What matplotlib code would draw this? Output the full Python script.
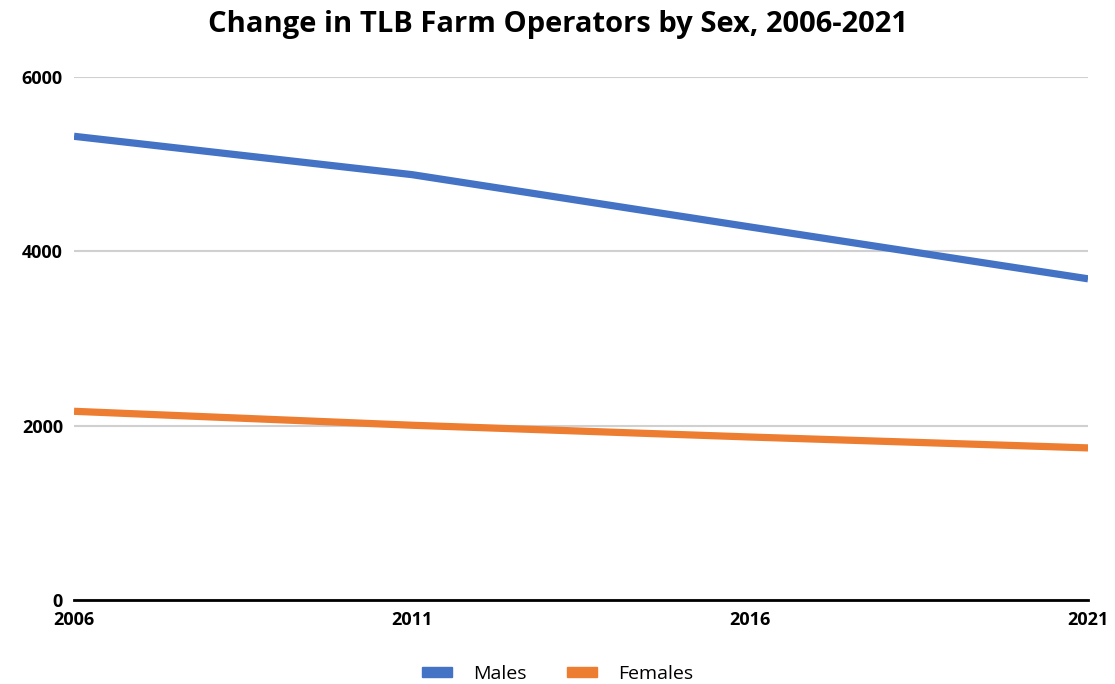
import matplotlib
matplotlib.use("Agg")
import matplotlib.pyplot as plt
from matplotlib.patches import Patch

# data
years = [2006, 2011, 2016, 2021]
males = [5320, 4880, 4280, 3685]
females = [2165, 2005, 1870, 1745]

blue = "#4472C4"
orange = "#ED7D31"

plt.rcParams['font.family'] = ['Open Sans', 'DejaVu Sans']

fig = plt.figure(figsize=(11.15, 6.84), dpi=100)
ax = fig.add_axes([0.0664, 0.1228, 0.9094, 0.7646])

ax.plot(years, males, color=blue, lw=5.2, solid_capstyle='butt', zorder=3)
ax.plot(years, females, color=orange, lw=5.2, solid_capstyle='butt', zorder=3)

ax.set_xlim(2006, 2021)
ax.set_ylim(0, 6000)
ax.set_xticks(years)
ax.set_yticks([0, 2000, 4000, 6000])
ax.grid(axis='y', color='#D0D0D0', lw=1.5)
ax.set_axisbelow(True)

for s in ['top', 'right', 'left']:
    ax.spines[s].set_visible(False)
ax.spines['bottom'].set_color('black')
ax.spines['bottom'].set_linewidth(2)
ax.spines['bottom'].set_zorder(4)
ax.tick_params(length=0, labelsize=13)
ax.tick_params(axis='y', pad=8)
ax.tick_params(axis='x', pad=8)
for lbl in ax.get_xticklabels() + ax.get_yticklabels():
    lbl.set_fontweight('bold')

fig.suptitle("Change in TLB Farm Operators by Sex, 2006-2021", y=0.985,
             fontsize=21, fontweight='bold')

handles = [Patch(color=blue, label='Males'), Patch(color=orange, label='Females')]
fig.legend(handles=handles, loc='lower center', bbox_to_anchor=(0.5, -0.024),
           ncol=2, frameon=False, fontsize=14, handlelength=1.55,
           handleheight=0.45, columnspacing=2.05, handletextpad=1.1)

fig.savefig("out.png", dpi=100)
